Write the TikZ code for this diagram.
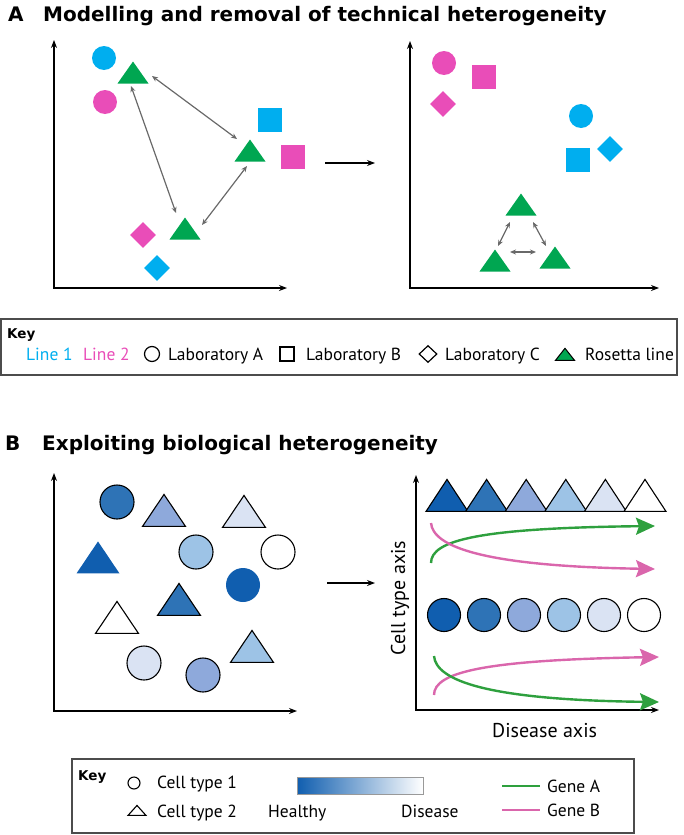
\documentclass[tikz,border=0pt]{standalone}
\usepackage{fontspec}
\setmainfont{PT Sans}
\newfontfamily\headfont{DejaVu Sans}
\usetikzlibrary{arrows.meta,shapes.geometric}
\definecolor{lineone}{RGB}{0,174,239}
\definecolor{linetwo}{RGB}{233,77,184}
\definecolor{rosetta}{RGB}{0,166,81}
\definecolor{geneA}{RGB}{46,160,62}
\definecolor{geneB}{RGB}{218,102,172}
\definecolor{arrgrey}{RGB}{105,105,105}
\definecolor{bI}{RGB}{16,94,175}
\definecolor{bII}{RGB}{46,115,182}
\definecolor{bIII}{RGB}{142,169,219}
\definecolor{bIV}{RGB}{157,195,230}
\definecolor{bV}{RGB}{218,227,243}

\begin{document}
\begin{tikzpicture}[x=1pt, y=-1pt,
  title/.style={font=\headfont\fontsize{20}{24}\selectfont\bfseries, inner sep=0, anchor=base west},
  keytxt/.style={font=\fontsize{17.5}{20}\selectfont, inner sep=0, anchor=base west},
  keyhead/.style={font=\headfont\fontsize{13.5}{16}\selectfont\bfseries, inner sep=0, anchor=base west},
  axlabel/.style={font=\fontsize{20}{23}\selectfont, inner sep=0},
  axes/.style={line width=1.2pt, {Stealth[length=8pt,width=6pt]}-{Stealth[length=8pt,width=6pt]}},
  flow/.style={line width=1.2pt, -{Stealth[length=8pt,width=6pt]}},
  twoway/.style={arrgrey, line width=1.2pt, {Stealth[length=6pt,width=5pt]}-{Stealth[length=6pt,width=5pt]}},
  uptri/.style={isosceles triangle, isosceles triangle stretches, rotate=90, inner sep=0, anchor=apex},
  pdot/.style={circle, inner sep=0, minimum size=24pt},
  psq/.style={rectangle, inner sep=0, minimum size=24pt},
  pdia/.style={diamond, inner sep=0, minimum size=26pt},
  ptri/.style={uptri, minimum height=22pt, minimum width=31pt, fill=rosetta},
  cell/.style={circle, draw, line width=1.1pt, inner sep=0, minimum size=34pt},
  celltri/.style={uptri, draw, line width=1.1pt, minimum height=32pt, minimum width=43pt},
  keybox/.style={draw=black!70, line width=1.3pt, inner sep=0},
  gene/.style={line width=2.4pt, -{Stealth[length=19pt,width=17pt,inset=3pt]}}]
\useasboundingbox (0,0) rectangle (684,835);

% A: technical heterogeneity
\node[title] (labA) at (8,21) {A};
\node[title] (headA) at (43,21) {Modelling and removal of technical heterogeneity};
\draw[axes] (54,40) |- (287,288);
\draw[axes] (410,41) |- (659,288);
\draw[flow] (325,163) -- (375,163);

\node[pdot, fill=lineone] (c1L) at (104,58) {};
\node[ptri] (t1L) at (133,61) {};
\node[pdot, fill=linetwo] (c2L) at (105,102) {};
\node[psq, fill=lineone] (s1L) at (270,120) {};
\node[ptri] (t2L) at (250,139) {};
\node[psq, fill=linetwo] (s2L) at (293,157) {};
\node[ptri] (t3L) at (185,217) {};
\node[pdia, fill=linetwo] (d2L) at (143,235) {};
\node[pdia, fill=lineone] (d1L) at (157,268) {};
\draw[twoway] ([shift={(19,15)}]t1L.apex) -- ([shift={(-13,0)}]t2L.apex);
\draw[twoway] ([shift={(-2,25)}]t1L.apex) -- ([shift={(-9,-4)}]t3L.apex);
\draw[twoway] ([shift={(17,8)}]t3L.apex) -- ([shift={(-3,27)}]t2L.apex);

\node[pdot, fill=linetwo] (c2R) at (444,63) {};
\node[psq, fill=linetwo] (s2R) at (484,77) {};
\node[pdia, fill=linetwo] (d2R) at (443,104) {};
\node[pdot, fill=lineone] (c1R) at (581,116) {};
\node[psq, fill=lineone] (s1R) at (578,160) {};
\node[pdia, fill=lineone] (d1R) at (610,149) {};
\node[ptri] (t1R) at (521,193) {};
\node[ptri] (t2R) at (495,249) {};
\node[ptri] (t3R) at (555,246) {};
\draw[twoway] ([shift={(-11,29)}]t1R.apex) -- ([shift={(3,-3)}]t2R.apex);
\draw[twoway] ([shift={(12,29)}]t1R.apex) -- ([shift={(-9,0)}]t3R.apex);
\draw[twoway] ([shift={(15,3)}]t2R.apex) -- ([shift={(-19,6)}]t3R.apex);

% key A
\node[keybox, minimum width=676pt, minimum height=56pt] (keyA) at (339,347) {};
\node[keyhead] (keyAt) at (7,338) {Key};
\node[keytxt, text=lineone] (kl1) at (26,360) {Line 1};
\node[keytxt, text=linetwo] (kl2) at (83,360) {Line 2};
\node[circle, draw, line width=1.2pt, inner sep=0, minimum size=15pt] (kcirc) at (152,354) {};
\node[keytxt] (klabA) at (168,360) {Laboratory A};
\node[rectangle, draw, line width=1.2pt, inner sep=0, minimum size=14pt] (ksq) at (287,354) {};
\node[keytxt] (klabB) at (306,360) {Laboratory B};
\node[diamond, draw, line width=1.2pt, inner sep=0, minimum width=18pt, minimum height=17pt] (kdia) at (428,354) {};
\node[keytxt] (klabC) at (445,360) {Laboratory C};
\node[uptri, draw, fill=rosetta, line width=1pt, minimum height=12pt, minimum width=19pt] (ktri) at (565,347) {};
\node[keytxt] (kros) at (585,360) {Rosetta line};

% B: biological heterogeneity
\node[title] (labB) at (5,450) {B};
\node[title] (headB) at (42,450) {Exploiting biological heterogeneity};
\draw[axes] (54,473) |- (297,711);
\draw[axes] (416,475) |- (659,710);
\draw[flow] (327,583) -- (375,583);

\node[cell, fill=bII] (u1) at (117,502) {};
\node[celltri, fill=bIII] (v1) at (164,493) {};
\node[celltri, fill=bV] (v2) at (244,494) {};
\node[celltri, fill=bI, draw=none] (v3) at (98,540) {};
\node[cell, fill=bIV] (u2) at (196,552) {};
\node[cell, fill=white] (u3) at (278,552) {};
\node[cell, fill=bI, draw=none] (u4) at (243,585) {};
\node[celltri, fill=bII] (v4) at (179,582) {};
\node[celltri, fill=white] (v5) at (117,600) {};
\node[cell, fill=bV] (u5) at (144,663) {};
\node[cell, fill=bIII] (u6) at (203,675) {};
\node[celltri, fill=bIV] (v6) at (252,629) {};

\foreach \c [count=\i from 0] in {bI,bII,bIII,bIV,bV,white} {
  \node[celltri, fill=\c, minimum width=42pt] (row\i) at (447+39.6*\i,478) {};
  \node[cell, fill=\c, minimum size=33pt] (col\i) at (444+40*\i,615) {};
}
\draw[gene, geneA] (431,563) .. controls (431,540) and (480,528) .. (655,526);
\draw[gene, geneB] (431,523) .. controls (433,546) and (480,566) .. (655,569);
\draw[gene, geneB] (434,695) .. controls (434,672) and (485,660) .. (659,657);
\draw[gene, geneA] (434,656) .. controls (436,680) and (485,700) .. (659,702);
\node[axlabel, rotate=90] (ylab) at (400,598) {Cell type axis};
\node[axlabel, anchor=base west] (xlab) at (492,737) {Disease axis};

% key B
\node[keybox, minimum width=562pt, minimum height=74pt] (keyB) at (353,796) {};
\node[keyhead] (keyBt) at (78,780) {Key};
\node[circle, draw, line width=1.1pt, inner sep=0, minimum size=12pt] (kc1) at (134,783) {};
\node[keytxt] (kt1) at (157,788) {Cell type 1};
\node[uptri, draw, line width=1.1pt, minimum height=10pt, minimum width=18pt] (kc2) at (137,804) {};
\node[keytxt] (kt2) at (157,817) {Cell type 2};
\node[draw=black!40, line width=0.6pt, left color=bI, right color=white, inner sep=0,
  minimum width=126pt, minimum height=17pt] (grad) at (360,785.5) {};
\node[keytxt] (khl) at (268,817) {Healthy};
\node[keytxt] (kds) at (401,817) {Disease};
\coordinate (gA0) at (502,786);
\coordinate (gA1) at (540,786);
\coordinate (gB0) at (502,810);
\coordinate (gB1) at (540,810);
\draw[geneA, line width=2pt] (gA0) -- (gA1);
\draw[geneB, line width=2pt] (gB0) -- (gB1);
\node[keytxt] (kga) at (547,792) {Gene A};
\node[keytxt] (kgb) at (547,816) {Gene B};
\end{tikzpicture}
\end{document}
